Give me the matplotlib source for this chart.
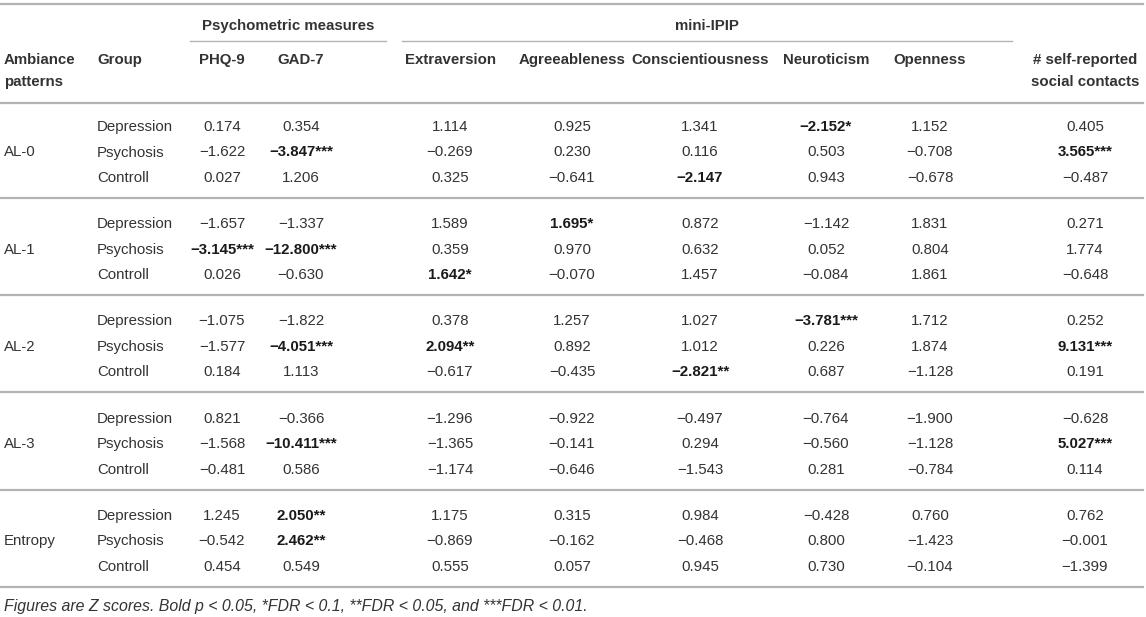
import matplotlib
matplotlib.use("Agg")
import matplotlib.pyplot as plt

plt.rcParams['font.family'] = ['Liberation Sans', 'DejaVu Sans']

patterns = ['AL-0', 'AL-1', 'AL-2', 'AL-3', 'Entropy']
groups = ['Depression', 'Psychosis', 'Controll']
columns = ['PHQ-9', 'GAD-7', 'Extraversion', 'Agreeableness',
           'Conscientiousness', 'Neuroticism', 'Openness',
           '# self-reported\nsocial contacts']

# Z scores, one list per group, columns in the order above
al0 = [[0.174, 0.354, 1.114, 0.925, 1.341, -2.152, 1.152, 0.405],
       [-1.622, -3.847, -0.269, 0.230, 0.116, 0.503, -0.708, 3.565],
       [0.027, 1.206, 0.325, -0.641, -2.147, 0.943, -0.678, -0.487]]
al1 = [[-1.657, -1.337, 1.589, 1.695, 0.872, -1.142, 1.831, 0.271],
       [-3.145, -12.800, 0.359, 0.970, 0.632, 0.052, 0.804, 1.774],
       [0.026, -0.630, 1.642, -0.070, 1.457, -0.084, 1.861, -0.648]]
al2 = [[-1.075, -1.822, 0.378, 1.257, 1.027, -3.781, 1.712, 0.252],
       [-1.577, -4.051, 2.094, 0.892, 1.012, 0.226, 1.874, 9.131],
       [0.184, 1.113, -0.617, -0.435, -2.821, 0.687, -1.128, 0.191]]
al3 = [[0.821, -0.366, -1.296, -0.922, -0.497, -0.764, -1.900, -0.628],
       [-1.568, -10.411, -1.365, -0.141, 0.294, -0.560, -1.128, 5.027],
       [-0.481, 0.586, -1.174, -0.646, -1.543, 0.281, -0.784, 0.114]]
entropy = [[1.245, 2.050, 1.175, 0.315, 0.984, -0.428, 0.760, 0.762],
           [-0.542, 2.462, -0.869, -0.162, -0.468, 0.800, -1.423, -0.001],
           [0.454, 0.549, 0.555, 0.057, 0.945, 0.730, -0.104, -1.399]]
values = [al0, al1, al2, al3, entropy]

# bold cells (pattern, group, column) -> FDR stars
significant = {
    (0, 0, 5): '*', (0, 1, 1): '***', (0, 1, 7): '***', (0, 2, 4): '',
    (1, 0, 3): '*', (1, 1, 0): '***', (1, 1, 1): '***', (1, 2, 2): '*',
    (2, 0, 5): '***', (2, 1, 1): '***', (2, 1, 2): '**', (2, 1, 7): '***',
    (2, 2, 4): '**',
    (3, 1, 1): '***', (3, 1, 7): '***',
    (4, 0, 1): '**', (4, 1, 1): '**',
}

note = ('Figures are Z scores. Bold p < 0.05, *FDR < 0.1, '
        '**FDR < 0.05, and ***FDR < 0.01.')

W, H = 1146, 617
fig = plt.figure(figsize=(W / 100, H / 100), dpi=100)
ax = fig.add_axes([0, 0, 1, 1])
ax.set_xlim(0, W)
ax.set_ylim(H, 0)
ax.axis('off')

txt = '#333333'
rule = '#b3b3b3'
fs = 10.8
col_x = [222, 301, 450, 572, 700, 826, 930, 1085]


def fmt(v):
    s = '%.3f' % v
    return s.replace('-', '\u2212')


def head(x, y, s, ha='center'):
    ax.text(x, y, s, ha=ha, va='center', fontsize=fs,
            fontweight='bold', color=txt)


# rules
ax.plot([0, 1143], [4, 4], color=rule, lw=1.6)
ax.plot([190, 386], [41, 41], color=rule, lw=1.0)
ax.plot([402, 1012], [41, 41], color=rule, lw=1.0)
ax.plot([0, 1143], [103, 103], color=rule, lw=1.6)

# headers
head(288, 26, 'Psychometric measures')
head(707, 26, 'mini-IPIP')
head(4, 60, 'Ambiance', ha='left')
head(4, 82, 'patterns', ha='left')
head(97, 60, 'Group', ha='left')
for x, c in zip(col_x, columns):
    for k, line in enumerate(c.split('\n')):
        head(x, 60 + 22 * k, line)

# body
for p, name in enumerate(patterns):
    top = 127 + p * 97.2
    ax.text(4, top + 25.5, name, ha='left', va='center', fontsize=fs,
            color=txt)
    for g, grp in enumerate(groups):
        y = top + g * 25.5
        ax.text(97, y, grp, ha='left', va='center', fontsize=fs, color=txt)
        for c, x in enumerate(col_x):
            v = values[p][g][c]
            key = (p, g, c)
            if key in significant:
                ax.text(x, y, fmt(v) + significant[key], ha='center',
                        va='center', fontsize=fs, fontweight='bold',
                        color='#1a1a1a')
            else:
                ax.text(x, y, fmt(v), ha='center', va='center',
                        fontsize=fs, color=txt)
    ax.plot([0, 1143], [top + 71, top + 71], color=rule, lw=1.6)

ax.text(4, 606, note, ha='left', va='center', fontsize=11.4,
        style='italic', color=txt)

fig.savefig('out.png', dpi=100)
